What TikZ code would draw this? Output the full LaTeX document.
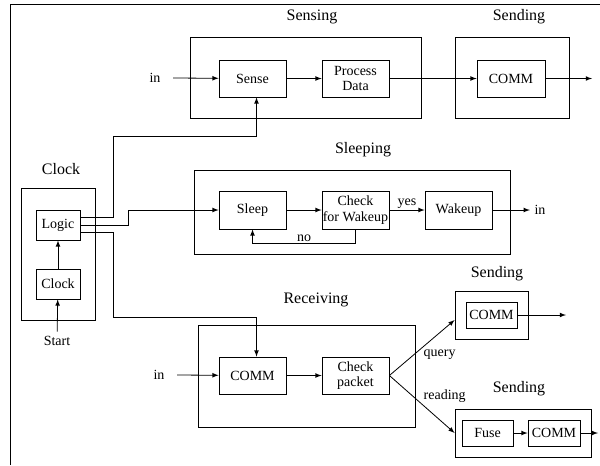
\documentclass[tikz,border=0pt]{standalone}
\usepackage{fontspec}
\setmainfont{Liberation Serif}
\usetikzlibrary{positioning}
\newcommand{\pxu}{0.75pt}
\tikzset{
  unit/.style={draw, line width=0.6pt, inner sep=0pt, align=center,
    font=\fontsize{10.5}{11.5}\selectfont,
    minimum width=67*\pxu, minimum height=37*\pxu},
  small unit/.style={unit, minimum width=51*\pxu, minimum height=26*\pxu},
  group/.style={draw, line width=0.6pt, inner sep=0pt},
  title/.style={font=\fontsize{12}{14}\selectfont},
  lbl/.style={font=\fontsize{10.5}{12}\selectfont},
  wire/.style={->, >=latex, line width=0.6pt},
}
\begin{document}
\begin{tikzpicture}[x=\pxu, y=-\pxu]
\useasboundingbox (0,0) rectangle (600,465);
\draw [line width=0.6pt] (10,465) -- (10,4) -- (600,4);
% groups
\node [group, minimum width=231*\pxu, minimum height=81*\pxu] (sensing) at (305.5,77.5) {};
\node [group, minimum width=114*\pxu, minimum height=81*\pxu] (sendA) at (512,77.5) {};
\node [group, minimum width=316*\pxu, minimum height=84*\pxu] (sleeping) at (352,212) {};
\node [group, minimum width=74*\pxu, minimum height=132*\pxu] (clockgrp) at (58,254) {};
\node [group, minimum width=217*\pxu, minimum height=102*\pxu] (receiving) at (306.5,376) {};
\node [group, minimum width=73*\pxu, minimum height=48*\pxu] (sendB) at (491.5,315) {};
\node [group, minimum width=136*\pxu, minimum height=48*\pxu] (sendC) at (523,433) {};
\node [title] (tsensing) at (312,17) {Sensing};
\node [title] (tsendA) at (519,17) {Sending};
\node [title] (tsleeping) at (363,150) {Sleeping};
\node [title] (tclock) at (61,169) {Clock};
\node [title] (treceiving) at (316,300) {Receiving};
\node [title] (tsendB) at (497,274) {Sending};
\node [title] (tsendC) at (519,389) {Sending};
% units
\node [unit] (sense) at (252.5,78.5) {Sense};
\node [unit] (proc) at (355.5,78.5) {Process\\Data};
\node [unit, minimum width=68*\pxu] (commA) at (511,78.5) {COMM};
\node [unit, minimum height=38*\pxu] (sleep) at (252.5,210) {Sleep};
\node [unit, minimum height=38*\pxu] (check) at (355.5,210) {Check\\for Wakeup};
\node [unit, minimum height=38*\pxu] (wake) at (458.5,210) {Wakeup};
\node [unit, minimum width=44*\pxu, minimum height=30*\pxu] (logic) at (58,225) {Logic};
\node [unit, minimum width=44*\pxu, minimum height=30*\pxu] (clk) at (58,284) {Clock};
\node [unit] (rcomm) at (252.5,375.5) {COMM};
\node [unit] (chk) at (355.5,375.5) {Check\\packet};
\node [small unit] (bcomm) at (491.5,315) {COMM};
\node [small unit] (fuse) at (487.5,433) {Fuse};
\node [small unit, minimum width=52*\pxu] (ccomm) at (554,433) {COMM};
% free ends
\node [lbl] (inA) at (155,78) {in};
\node [lbl] (inB) at (540,210) {in};
\node [lbl] (inC) at (159,375) {in};
\node [lbl] (start) at (57,341) {Start};
\coordinate (outA) at (592,78.5);
\coordinate (outB) at (566,315);
\coordinate (outC) at (598,433);
% wires
\draw [wire] ([xshift=6pt]inA.east) -- (sense);
\draw [wire] (sense) -- (proc);
\draw [wire] (proc) -- (commA);
\draw [wire] (commA) -- (outA);
\draw [wire] (start) -- (clk);
\draw [wire] (clk) -- (logic);
\draw [wire] ([yshift=6pt]logic.east) -| (113,136) -| ([xshift=3pt]sense.south);
\draw [wire] (logic.east) -| (128,210) -- (sleep.west);
\draw [wire] ([yshift=-5.25pt]logic.east) -| (113,317) -| ([xshift=3pt]rcomm.north);
\draw [wire] (sleep) -- (check);
\draw [wire] (check) -- node [lbl, above, inner sep=1pt] {yes} (wake);
\draw [wire] (wake) -- (inB);
\draw [wire] (check.south) -- ++(0,14) -| node [lbl, pos=0.25, above, inner sep=1pt] {no} (sleep.south);
\draw [wire] ([xshift=6pt]inC.east) -- (rcomm);
\draw [wire] (rcomm) -- (chk);
\draw [wire] (chk.east) -- node [lbl, pos=0.5, below right, inner sep=1pt] {query} ([yshift=-3.75pt]sendB.west);
\draw [wire] (chk.east) -- node [lbl, pos=0.5, above right, inner sep=1pt] {reading} (sendC.west);
\draw [wire] (bcomm) -- (outB);
\draw [wire] (fuse) -- (ccomm);
\draw [wire] (ccomm) -- (outC);
\end{tikzpicture}
\end{document}
